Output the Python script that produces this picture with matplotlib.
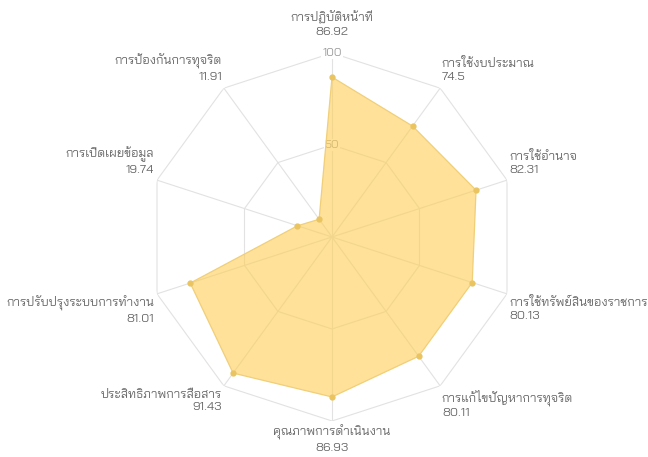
import numpy as np
import matplotlib
matplotlib.use("Agg")
import matplotlib.pyplot as plt
from matplotlib import font_manager

labels = ["การปฏิบัติหน้าที่", "การใช้งบประมาณ", "การใช้อำนาจ",
          "การใช้ทรัพย์สินของราชการ", "การแก้ไขปัญหาการทุจริต",
          "คุณภาพการดำเนินงาน", "ประสิทธิภาพการสื่อสาร",
          "การปรับปรุงระบบการทำงาน", "การเปิดเผยข้อมูล", "การป้องกันการทุจริต"]
values = [86.92, 74.5, 82.31, 80.13, 80.11, 86.93, 91.43, 81.01, 19.74, 11.91]
ticks = [50, 100]

# pick a Thai font that is installed
installed = {f.name for f in font_manager.fontManager.ttflist}
thai = [f for f in ['Bai Jamjuree', 'Kanit', 'Anuphan'] if f in installed][:1]
plt.rcParams['font.family'] = thai + ['DejaVu Sans']

fig = plt.figure(figsize=(6.48, 4.57), dpi=100)
# polar area: center (332, 237) px, radius 184 px
ax = fig.add_axes([148 / 648, 36 / 457, 368 / 648, 368 / 457], projection='polar')
ax.set_theta_zero_location('N')
ax.set_theta_direction(-1)
ax.set_ylim(0, 100)
ax.axis('off')

n = len(labels)
angles = np.linspace(0, 2 * np.pi, n, endpoint=False)
closed_a = np.append(angles, angles[0])
closed_v = np.append(values, values[0])

grid_c = '#e2e2e2'
for t in ticks:
    ax.plot(closed_a, [t] * (n + 1), color=grid_c, lw=0.8, zorder=1)
for a in angles:
    ax.plot([a, a], [0, 100], color=grid_c, lw=0.8, zorder=1)
for t in ticks:
    ax.text(0, t, str(t), ha='center', va='center', fontsize=8.5,
            color='#999999', zorder=1.5,
            bbox=dict(boxstyle='square,pad=0.1', fc='white', ec='none'))

ax.fill(closed_a, closed_v, color='#ffce56', alpha=0.6, lw=0, zorder=2)
ax.plot(closed_a, closed_v, color='#f0cf78', lw=0.9, zorder=3)
ax.plot(angles, values, 'o', color='#e9c460', ms=3.5, zorder=4)

for i, (a, lab, v) in enumerate(zip(angles, labels, values)):
    deg = np.degrees(a)
    if np.isclose(deg, 0) or np.isclose(deg, 180):
        ha = 'center'
    elif deg < 180:
        ha = 'left'
    else:
        ha = 'right'
    if 90 < deg < 270:
        va, extra = 'top', -1
    else:
        va, extra = 'bottom', 4
    pad = 3 + (9 if i == 0 else 0)
    ax.annotate(f"{lab}\n{v:g}", xy=(a, 100),
                xytext=(pad * np.sin(a), pad * np.cos(a) + extra),
                textcoords='offset pixels', ha=ha, va=va, multialignment=ha,
                fontsize=9, color='#666666', linespacing=1.35,
                annotation_clip=False)

fig.savefig("out.png", dpi=100)
